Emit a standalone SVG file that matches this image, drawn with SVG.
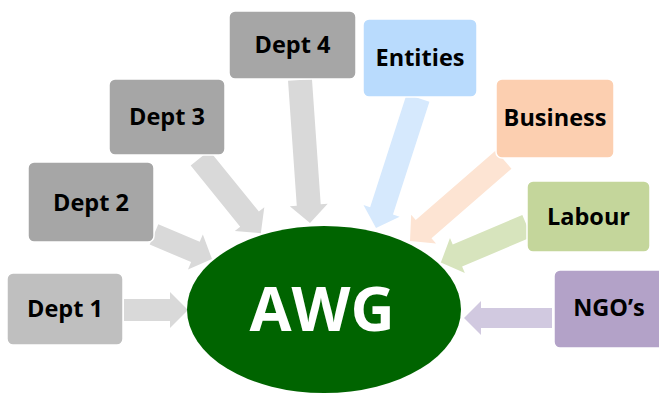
<svg xmlns="http://www.w3.org/2000/svg" width="659" height="397" viewBox="0 0 659 397">
  <defs>
    <style>
      .box { stroke: #ffffff; stroke-width: 1.5; }
      .lbl { font-family: "Open Sans", "Liberation Sans", sans-serif; font-weight: bold; font-size: 23.5px; fill: #000000; text-anchor: middle; }
      .hub { font-family: "Open Sans", "Liberation Sans", sans-serif; font-weight: bold; font-size: 61px; fill: #ffffff; text-anchor: middle; }
      .gray { fill: #d9d9d9; }
    </style>
  </defs>

  <rect width="659" height="397" fill="#ffffff"/>

  <!-- connectors: block arrows converging on the hub (each drawn along +x, then placed) -->
  <g id="connectors">
    <!-- Dept 1 -->
    <path class="gray" transform="translate(124,310) rotate(0)" d="M0,-11 L46,-11 L46,-18 L64,0 L46,18 L46,11 L0,11 Z"/>
    <!-- Dept 2 -->
    <path class="gray" transform="translate(154,234.4) rotate(23)" d="M0,-11 L45,-11 L45,-19 L63,0 L45,19 L45,11 L0,11 Z"/>
    <!-- Dept 3 -->
    <path class="gray" transform="translate(200,158) rotate(51)" d="M0,-12 L78.7,-12 L78.7,-19 L96.7,0 L78.7,19 L78.7,12 L0,12 Z"/>
    <!-- Dept 4 -->
    <path class="gray" transform="translate(300,80) rotate(86)" d="M0,-12 L125.3,-12 L125.3,-19 L143.3,0 L125.3,19 L125.3,12 L0,12 Z"/>
    <!-- Entities -->
    <path fill="#d6e9fd" transform="translate(418,98) rotate(107.9)" d="M0,-12 L118.6,-12 L118.6,-19 L136.6,0 L118.6,19 L118.6,12 L0,12 Z"/>
    <!-- Business -->
    <path fill="#fde4d3" transform="translate(503.6,159.6) rotate(139)" d="M0,-12 L106,-12 L106,-19 L124,0 L106,19 L106,12 L0,12 Z"/>
    <!-- Labour -->
    <path fill="#d7e4bd" transform="translate(527,226) rotate(157)" d="M0,-12 L75.6,-12 L75.6,-19 L93.6,0 L75.6,19 L75.6,12 L0,12 Z"/>
    <!-- NGO's -->
    <path fill="#d1c9e0" transform="translate(552,318) rotate(180)" d="M0,-10 L71,-10 L71,-17 L88,0 L71,17 L71,10 L0,10 Z"/>
  </g>

  <!-- hub -->
  <g id="awg">
    <ellipse cx="324" cy="309.5" rx="137" ry="83.5" fill="#006400"/>
    <text class="hub" x="322" y="331">AWG</text>
  </g>

  <g id="dept1">
    <rect class="box" x="7" y="273" width="116" height="72" rx="6" fill="#bfbfbf"/>
    <text class="lbl" x="65" y="317">Dept 1</text>
  </g>
  <g id="dept2">
    <rect class="box" x="28" y="162" width="126" height="80" rx="6" fill="#a6a6a6"/>
    <text class="lbl" x="91" y="211">Dept 2</text>
  </g>
  <g id="dept3">
    <rect class="box" x="109" y="79" width="116" height="76" rx="6" fill="#a6a6a6"/>
    <text class="lbl" x="167" y="125">Dept 3</text>
  </g>
  <g id="dept4">
    <rect class="box" x="229" y="11" width="127" height="68" rx="6" fill="#a6a6a6"/>
    <text class="lbl" x="292.5" y="53">Dept 4</text>
  </g>
  <g id="entities">
    <rect class="box" x="363" y="19" width="114" height="78" rx="6" fill="#b9dbfd"/>
    <text class="lbl" x="420" y="66">Entities</text>
  </g>
  <g id="business">
    <rect class="box" x="496" y="79" width="118" height="79" rx="6" fill="#fccfb0"/>
    <text class="lbl" x="555" y="126">Business</text>
  </g>
  <g id="labour">
    <rect class="box" x="527" y="181" width="123" height="71" rx="6" fill="#c4d69b"/>
    <text class="lbl" x="588.5" y="225">Labour</text>
  </g>
  <g id="ngos">
    <rect class="box" x="554" y="270" width="112" height="78" rx="6" fill="#b3a2c8"/>
    <text class="lbl" x="609" y="316">NGO’s</text>
  </g>
</svg>
